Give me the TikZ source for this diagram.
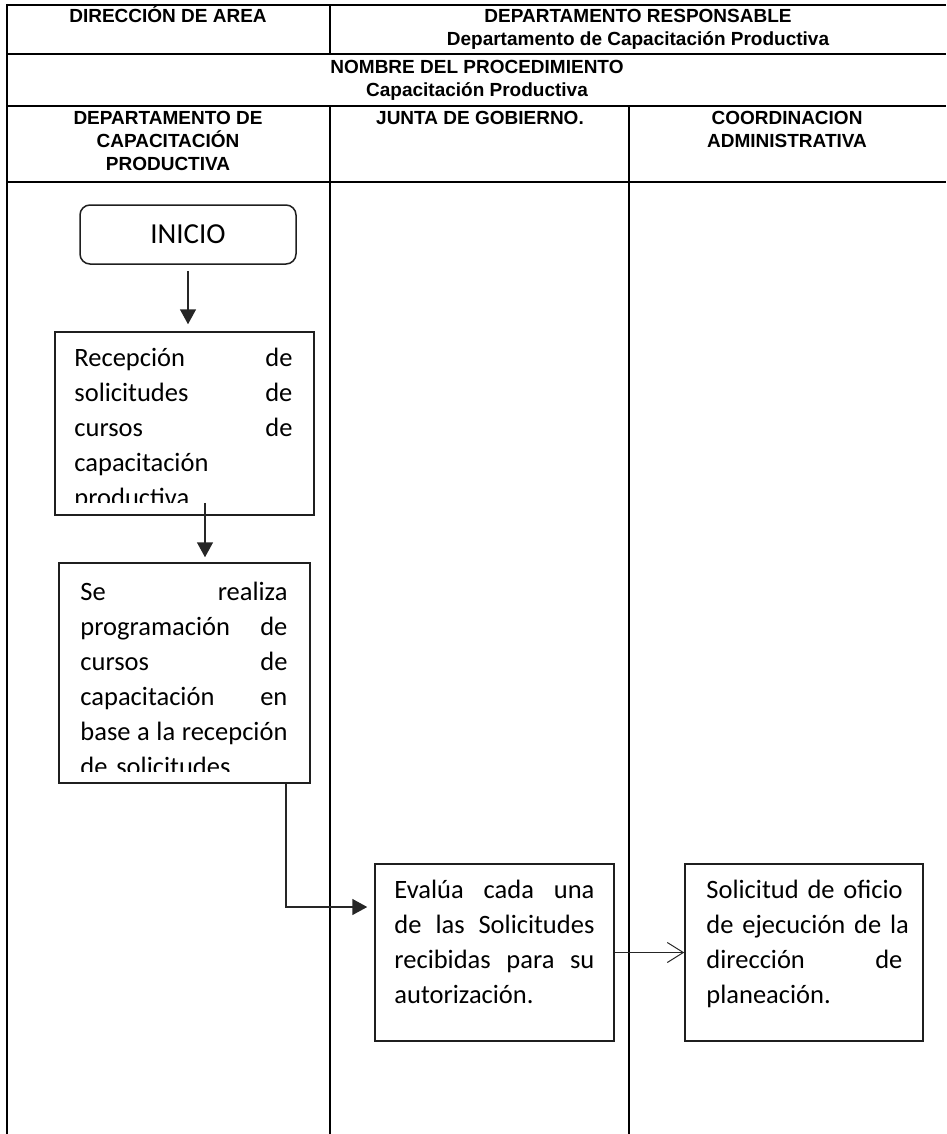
\documentclass[tikz,border=0pt]{standalone}
\usepackage{fontspec}
\setmainfont{Liberation Sans}
\newfontfamily\hdrfont{Liberation Sans}
\newfontfamily\bodyfont{Carlito}
\usetikzlibrary{arrows.meta,calc}
\newcommand{\jlinex}[1]{\makebox[\linewidth][s]{#1}}
\begin{document}
\begin{tikzpicture}[x=1pt,y=-1pt,
  tbl/.style={line width=2.2pt, black},
  hdr/.style={font=\hdrfont\bfseries\fontsize{19}{23}\selectfont, inner sep=0pt, align=center, anchor=base},
  box/.style={draw=black!88, line width=1.5pt, inner sep=0pt},
  bodytxt/.style={font=\bodyfont\fontsize{26.5}{35}\selectfont, inner sep=0pt, anchor=base west, text width=#1, align=left},
  arr/.style={draw=black!85, line width=1.5pt, -{Triangle[width=16pt,length=15pt]}},
  thinarr/.style={draw=black!85, line width=1pt, -{Straight Barb[length=16pt,width=20pt,line width=1pt]}}
]
\useasboundingbox (0,0) rectangle (946,1134);

% table lines
\draw[tbl] (7,5) -- (946,5);
\draw[tbl] (7,54) -- (946,54);
\draw[tbl] (7,106) -- (946,106);
\draw[tbl] (7,182) -- (946,182);
\draw[tbl] (7,4) -- (7,1134);
\draw[tbl] (330,5) -- (330,54);
\draw[tbl] (330,106) -- (330,1134);
\draw[tbl] (629,106) -- (629,1134);

% header texts (multi-line nodes are anchored at the baseline of their last line)
\node[hdr] (dir) at (168,23) {DIRECCIÓN DE AREA};
\node[hdr] (dep) at (638,23) {DEPARTAMENTO RESPONSABLE};
\node[hdr] (depn) at (638,46) {Departamento de Capacitación Productiva};
\node[hdr] (nom) at (477,74) {NOMBRE DEL PROCEDIMIENTO};
\node[hdr] (proc) at (477,97) {Capacitación Productiva};
\node[hdr] (lane1) at (168,171) {DEPARTAMENTO DE\\CAPACITACIÓN\\PRODUCTIVA};
\node[hdr] (lane2) at (480,125) {JUNTA DE GOBIERNO.};
\node[hdr] (lane3) at (787,148) {COORDINACION\\ADMINISTRATIVA};

% boxes
\node[box, rounded corners=10pt, minimum width=216pt, minimum height=59pt,
      font=\bodyfont\fontsize{29}{29}\selectfont] (ini) at (188,234.5) {INICIO};
\node[box, minimum width=259pt, minimum height=183pt] (rec) at (184.5,423.5) {};
\node[box, minimum width=251pt, minimum height=220pt] (se) at (184.5,673) {};
\node[box, minimum width=239pt, minimum height=177pt] (ev) at (494.5,952.5) {};
\node[box, minimum width=238pt, minimum height=177pt] (sol) at (804,952.5) {};

% box texts
\begin{scope}
\clip ($(rec.south west)+(0,-13)$) rectangle (rec.north east);
\node[bodytxt=218pt] (rect) at ($(rec.north west)+(20,35)$) {%
\jlinex{Recepción\hfill de}\\
\jlinex{solicitudes\hfill de}\\
\jlinex{cursos\hfill de}\\
capacitación\\
productiva.};
\end{scope}
\begin{scope}
\clip ($(se.south west)+(0,-12)$) rectangle (se.north east);
\node[bodytxt=207pt] (set) at ($(se.north west)+(22,38)$) {%
\jlinex{Se\hfill realiza}\\
\jlinex{programación\hfill de}\\
\jlinex{cursos\hfill de}\\
\jlinex{capacitación\hfill en}\\
\jlinex{base\hfill a\hfill la\hfill recepción}\\
de solicitudes.};
\end{scope}
\node[bodytxt=200pt] (evt) at ($(ev.north west)+(20,35)$) {%
\jlinex{Evalúa\hfill cada\hfill una}\\
\jlinex{de\hfill las\hfill Solicitudes}\\
\jlinex{recibidas\hfill para\hfill su}\\
autorización.};
\node[bodytxt=196pt] (solt) at ($(sol.north west)+(22,35)$) {%
\mbox{Solicitud de oficio}\\
\mbox{de ejecución de la}\\
\jlinex{dirección\hfill de}\\
planeación.};

% connectors
\draw[arr, shorten <=6pt, shorten >=7pt] (ini.south) -- (ini.south |- rec.north);
\draw[arr, shorten >=5pt] ($(rec.south)+(20.5,-13)$) -- ($(se.north)+(20.5,0)$);
\draw[arr, shorten >=7pt] ($(se.south east)+(-25,0)$) |- ($(ev.west)+(0,-45.5)$);
\draw[thinarr] (ev.east) -- (sol.west);
\end{tikzpicture}
\end{document}
